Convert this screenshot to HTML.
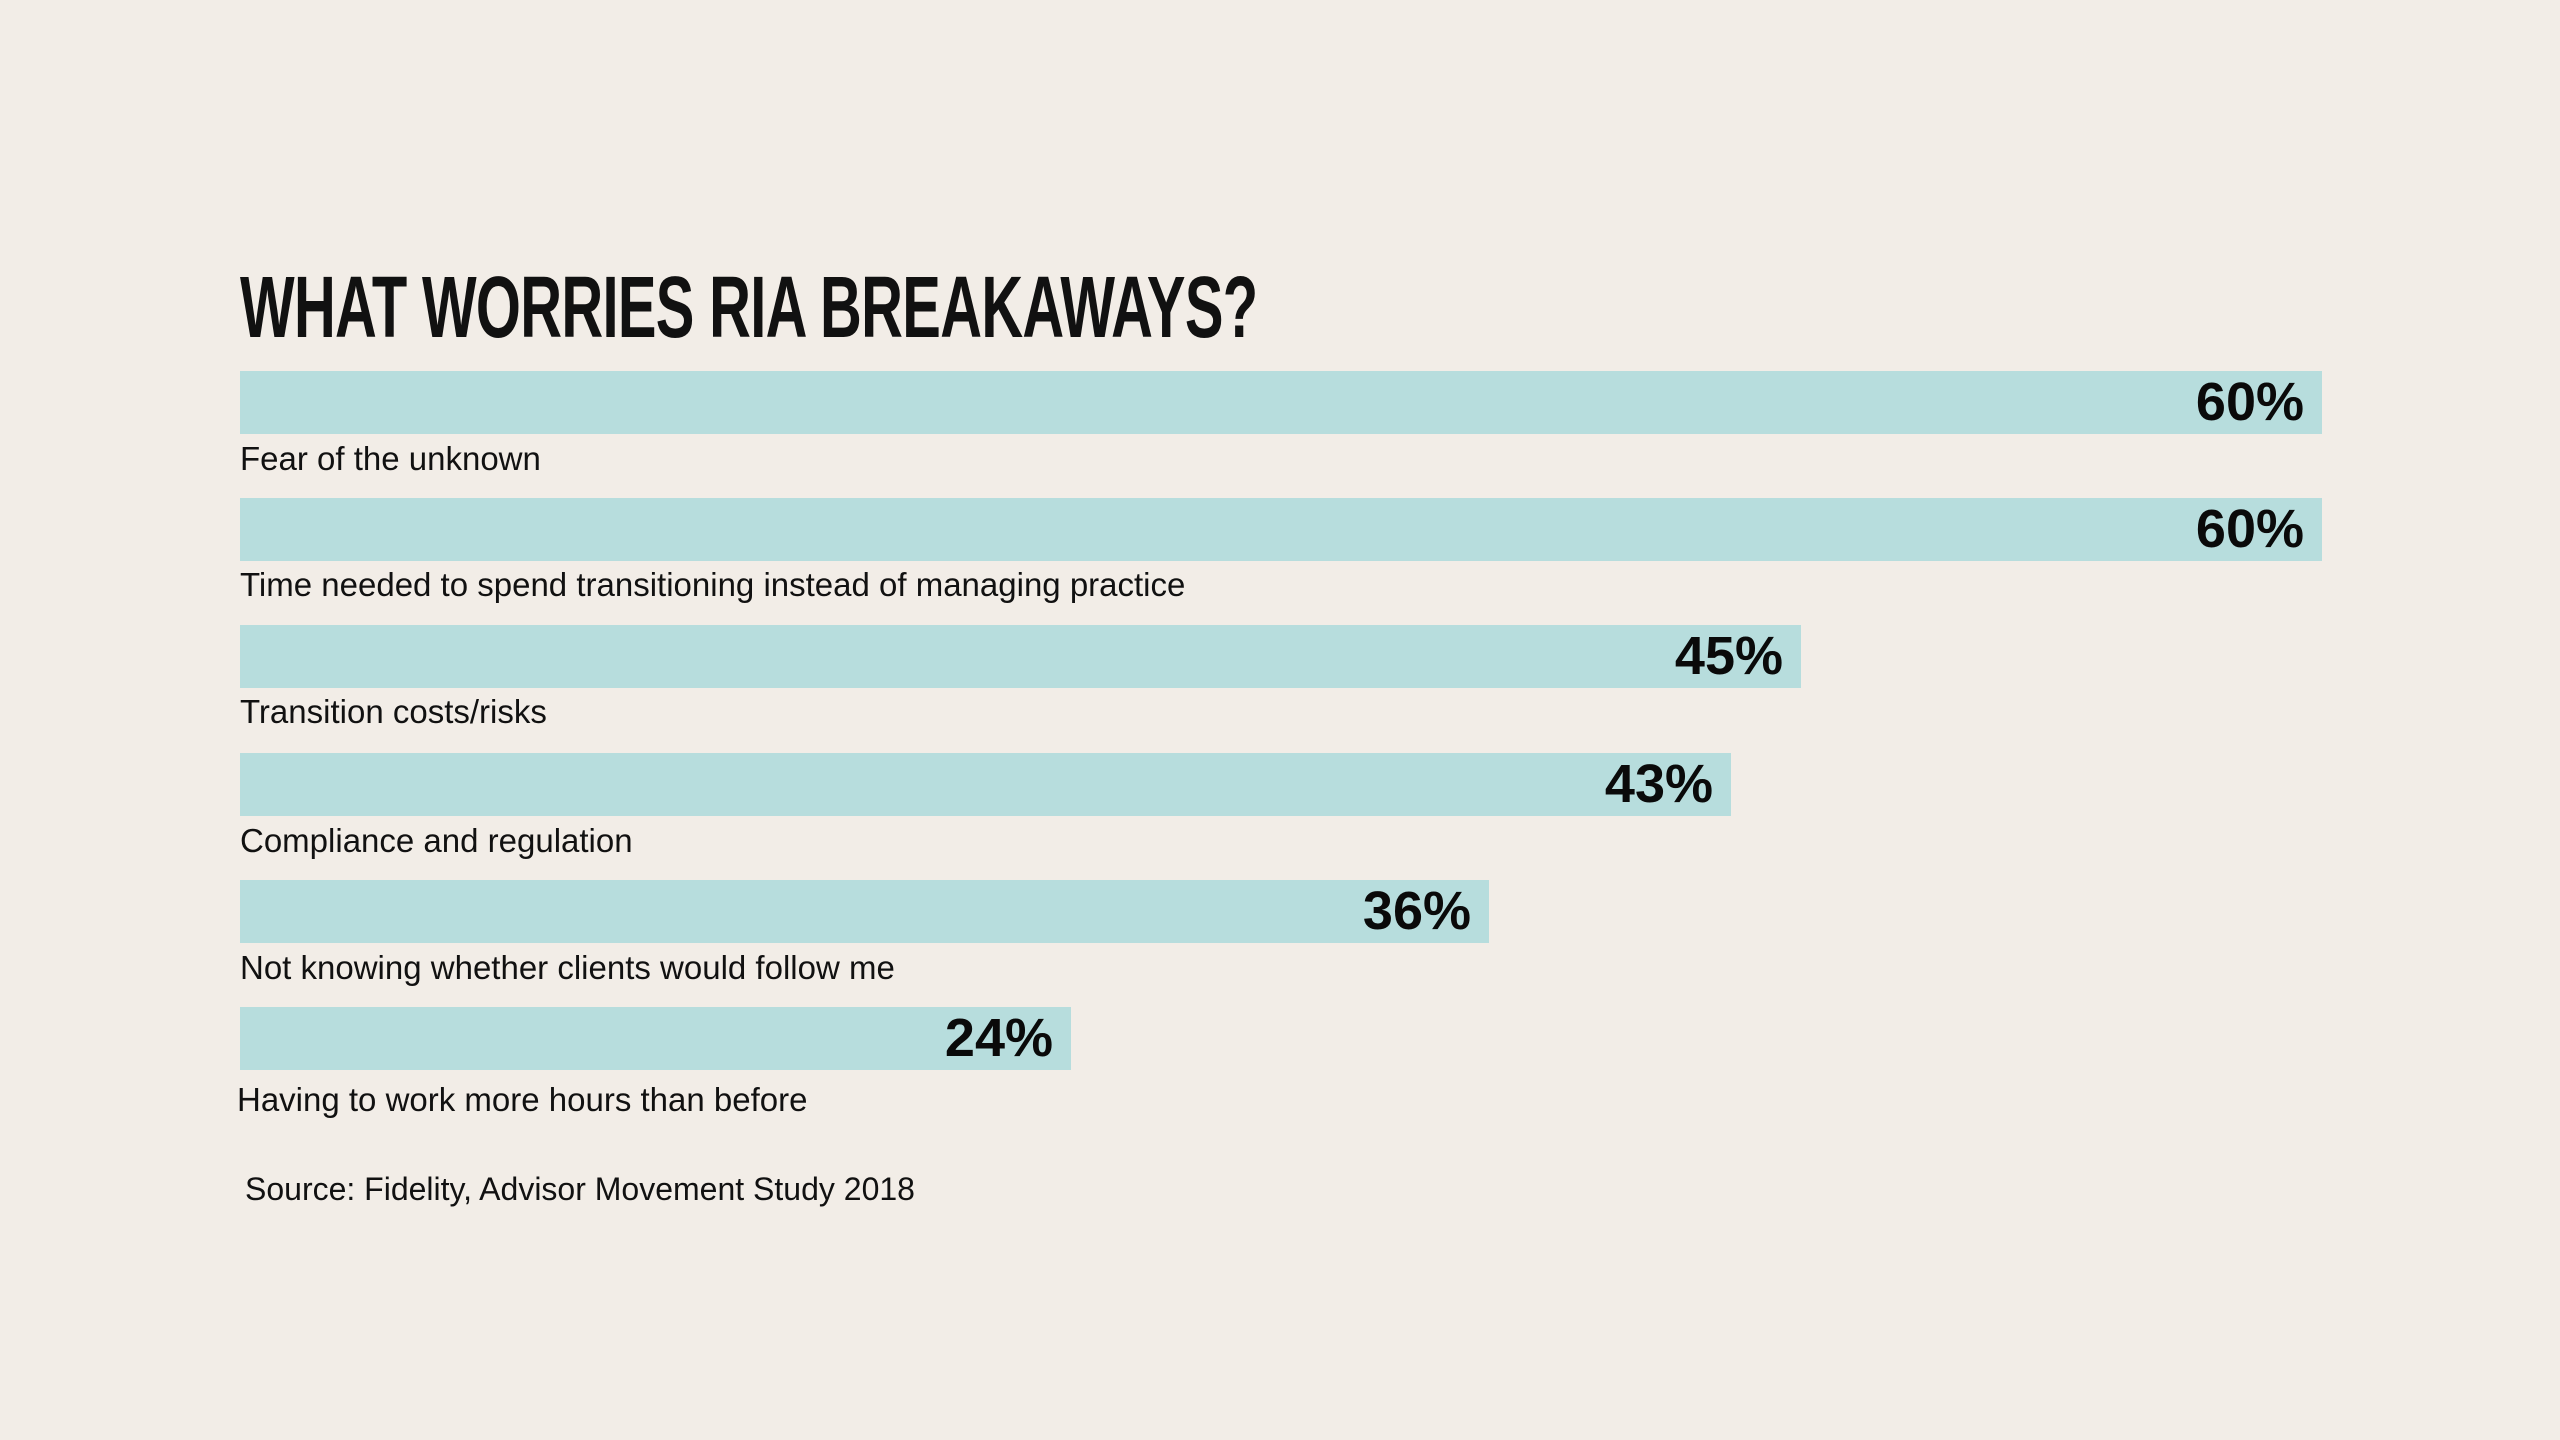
<!DOCTYPE html>
<html><head><meta charset="utf-8"><style>
html,body{margin:0;padding:0}
body{width:2560px;height:1440px;background:#f2ede7;position:relative;overflow:hidden;font-family:"Liberation Sans",sans-serif;color:#111}
.title{position:absolute;left:240px;top:258px;font-size:87px;font-weight:bold;white-space:nowrap;transform:scaleX(0.665);transform-origin:left top;letter-spacing:-1px}
.bar{position:absolute;left:240px;height:63px;background:#b7dddd}
.val{position:absolute;right:18px;top:0;line-height:63px;font-size:54px;font-weight:bold;color:#0a0a0a}
.lab{position:absolute;left:240px;font-size:33px;line-height:36px;white-space:nowrap}
</style></head><body>
<div class="title">WHAT WORRIES RIA BREAKAWAYS?</div>

<div class="bar" style="top:371px;width:2082px"><span class="val">60%</span></div>
<div class="lab" style="top:441px">Fear of the unknown</div>

<div class="bar" style="top:498px;width:2082px"><span class="val">60%</span></div>
<div class="lab" style="top:567px">Time needed to spend transitioning instead of managing practice</div>

<div class="bar" style="top:625px;width:1561px"><span class="val">45%</span></div>
<div class="lab" style="top:694px">Transition costs/risks</div>

<div class="bar" style="top:753px;width:1491px"><span class="val">43%</span></div>
<div class="lab" style="top:823px">Compliance and regulation</div>

<div class="bar" style="top:880px;width:1249px"><span class="val">36%</span></div>
<div class="lab" style="top:950px">Not knowing whether clients would follow me</div>

<div class="bar" style="top:1007px;width:831px"><span class="val">24%</span></div>
<div class="lab" style="top:1082px;left:237px">Having to work more hours than before</div>

<div class="lab" style="top:1171px;left:245px;font-size:32px">Source: Fidelity, Advisor Movement Study 2018</div>
</body></html>
